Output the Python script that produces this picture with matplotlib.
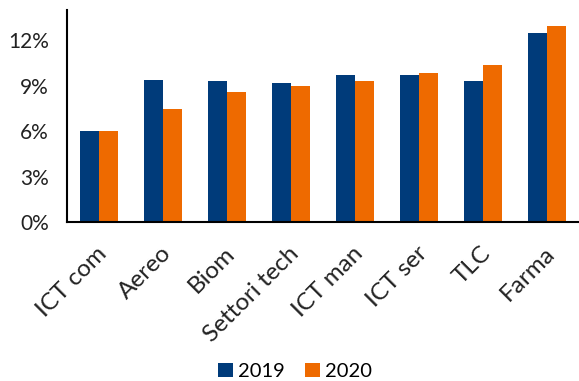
import numpy as np
from matplotlib import pyplot as plt
from matplotlib.ticker import FuncFormatter
from matplotlib.transforms import ScaledTranslation

categorie = ["ICT com", "Aereo", "Biom", "Settori tech", "ICT man", "ICT ser", "TLC", "Farma"]
valori_2019 = [6.0, 9.4, 9.3, 9.15, 9.7, 9.7, 9.3, 12.5]
valori_2020 = [6.0, 7.45, 8.6, 9.0, 9.3, 9.85, 10.4, 12.95]

plt.rcParams['font.family'] = ['Lato', 'DejaVu Sans']

fig = plt.figure(figsize=(5.79, 3.81), dpi=100)
ax = fig.add_axes([0.1157, 0.4173, 0.8843, 0.5565])

x = np.arange(len(categorie))
w = 0.3
ax.bar(x - w / 2, valori_2019, w, color="#003B7A", label="2019")
ax.bar(x + w / 2, valori_2020, w, color="#EE6A00", label="2020")

ax.set_xlim(-0.5, len(categorie) - 0.5)
ax.set_ylim(0, 14)
ax.set_yticks([0, 3, 6, 9, 12])
ax.yaxis.set_major_formatter(FuncFormatter(lambda v, p: "%d%%" % v))
ax.set_xticks(x)
ax.set_xticklabels(categorie, rotation=45, ha="right", va="top", rotation_mode="anchor")
ax.tick_params(axis="both", length=0, colors="#222222")
ax.tick_params(axis="y", pad=13, labelsize=15)
ax.tick_params(axis="x", pad=15, labelsize=17.5)

# spostamento leggero delle etichette verso sinistra
sposta = ScaledTranslation(-2 / 72, 0, fig.dpi_scale_trans)
for lab in ax.get_xticklabels():
    lab.set_transform(lab.get_transform() + sposta)

ax.spines["top"].set_visible(False)
ax.spines["right"].set_visible(False)
ax.spines["left"].set_linewidth(1.5)
ax.spines["bottom"].set_linewidth(1.5)

fig.legend(loc="lower center", bbox_to_anchor=(0.51, -0.045), ncol=2, frameon=False,
           fontsize=14.5, handlelength=0.75, handleheight=0.75, handletextpad=0.25,
           columnspacing=1.0)

fig.savefig("out.png", dpi=100)
